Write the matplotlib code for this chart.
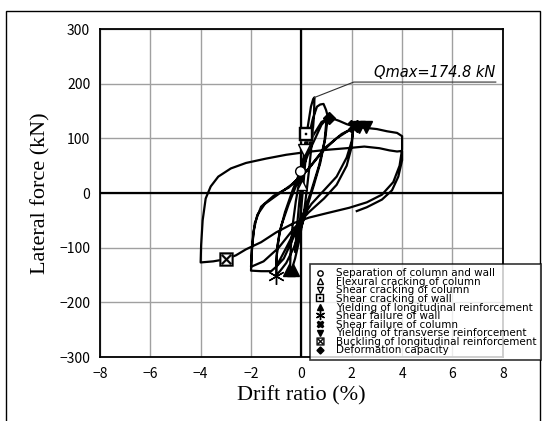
import matplotlib.pyplot as plt
from matplotlib.patches import Rectangle

# hysteresis loop (drift %, lateral force kN)
drift = [0, 0.03, 0.08, 0.15, 0.22, 0.25, 0.18, 0.08, 0.0, -0.1, -0.2, -0.25, -0.18, -0.08, 0.0,
         0.1, 0.25, 0.38, 0.47, 0.52, 0.5, 0.42, 0.3, 0.2, 0.08, -0.1, -0.25, -0.35, -0.45,
         -0.42, -0.35, -0.22, -0.05, 0.2, 0.45, 0.62, 0.75, 0.88, 0.98, 1.05, 0.95, 0.75, 0.5,
         0.3, 0.05, -0.3, -0.6, -0.85, -1.0, -0.98, -0.88, -0.65, -0.35, 0.0, 0.4, 0.8, 1.0,
         0.92, 0.7, 0.4, 0.1, -0.3, -0.7, -1.0, -0.95, -0.8, -0.5, -0.15, 0.3, 0.8, 1.08, 1.5,
         1.8, 2.08, 2.0, 1.8, 1.4, 0.9, 0.4, -0.1, -0.6, -1.0, -1.2, -1.6, -2.0, -1.97, -1.9,
         -1.75, -1.45, -1.0, -0.4, 0.2, 0.8, 1.4, 1.8, 2.05, 2.0, 1.8, 1.4, 0.9, 0.3, -0.3,
         -0.9, -1.5, -2.0, -1.95, -1.85, -1.6, -1.1, -0.5, 0.3, 1.0, 1.6, 2.1, 2.35, 2.6, 3.0,
         3.4, 3.8, 4.0, 4.0, 3.9, 3.65, 3.2, 2.6, 1.9, 1.0, 0.3, -0.3, -1.0, -1.6, -2.2, -2.6,
         -3.0, -3.5, -4.0, -3.98, -3.92, -3.8, -3.6, -3.3, -2.8, -2.2, -1.4, -0.6, 0.2, 1.0,
         1.8, 2.5, 3.1, 3.5, 3.8, 4.0, 4.0, 3.85, 3.6, 3.2, 2.6, 2.2]
force = [0, 15, 50, 85, 105, 112, 70, 15, -25, -70, -100, -108, -65, -15, 20,
         70, 120, 158, 172, 175, 140, 95, 40, 0, -45, -90, -120, -135, -140,
         -100, -60, -15, 30, 85, 135, 158, 162, 163, 152, 140, 100, 55, 15,
         -15, -55, -100, -128, -143, -150, -115, -75, -35, 5, 45, 100, 130, 135,
         95, 50, 5, -35, -80, -120, -135, -95, -60, -20, 20, 75, 125, 139, 132,
         126, 122, 95, 65, 30, 5, -20, -55, -100, -135, -143, -143, -142, -105, -70,
         -40, -20, -5, 15, 40, 75, 100, 112, 118, 85, 50, 15, -10, -35, -65,
         -100, -125, -135, -95, -55, -25, -5, 10, 45, 85, 108, 120, 120, 119, 117,
         113, 110, 104, 80, 50, 20, -3, -17, -27, -37, -45, -55, -72, -90, -103, -114,
         -121, -125, -127, -95, -50, -10, 12, 30, 45, 55, 63, 70, 75, 79,
         82, 85, 82, 78, 76, 77, 60, 30, 5, -12, -26, -33]

# damage events
events = ['Separation of column and wall', 'Flexural cracking of column',
          'Shear cracking of column', 'Shear cracking of wall',
          'Yielding of longitudinal reinforcement', 'Shear failure of wall',
          'Shear failure of column', 'Yielding of transverse reinforcement',
          'Buckling of longitudinal reinforcement', 'Deformation capacity']
event_x = [[-0.05], [0.03], [0.1], [0.2], [-0.5, -0.35], [-1.0], [2.08], [2.3, 2.55], [-3.0], [1.08]]
event_y = [[40], [15], [78], [108], [-140, -140], [-152], [122], [120, 120], [-121], [138]]

qmax = 174.8

fig = plt.figure(figsize=(5.43, 4.21), dpi=100)
ax = fig.add_axes([0.184, 0.152, 0.742, 0.779])

ax.grid(True, color='#a0a0a0', lw=1)
ax.set_axisbelow(True)
ax.axhline(0, color='black', lw=1.6, zorder=1)
ax.axvline(0, color='black', lw=1.6, zorder=1)

ax.plot(drift, force, color='black', lw=1.6, zorder=2)

styles = [
    dict(marker='o', mfc='white', mec='black', ms=7),
    dict(marker='^', mfc='white', mec='black', ms=7),
    dict(marker='v', mfc='white', mec='black', ms=8),
    dict(marker=r'$\boxdot$', color='black', ms=10, mew=0.3),
    dict(marker='^', color='black', ms=8),
    dict(marker=(6, 2, 0), color='black', ms=12, mew=1.0),
    dict(marker='X', color='black', ms=9),
    dict(marker='v', color='black', ms=8),
    dict(marker=r'$\boxtimes$', color='black', ms=10, mew=0.3),
    dict(marker='D', color='black', ms=6.5),
]

# white backing under the box markers
for i in (3, 8):
    ax.plot(event_x[i], event_y[i], ls='none', marker='s', mfc='white', mec='white', ms=9, zorder=3)

handles = []
for name, xs, ys, st in zip(events, event_x, event_y, styles):
    h, = ax.plot(xs, ys, ls='none', zorder=4, label=name, **st)
    handles.append(h)

# Qmax note
ax.plot([0.52, 2.08, 7.72], [qmax, 203, 203], color='#303030', lw=0.8, zorder=3)
ax.text(2.9, 212, 'Qmax=174.8 kN', fontsize=10.5, style='italic', family='DejaVu Sans')

ax.set_xlim(-8, 8)
ax.set_ylim(-300, 300)
ax.set_xticks(range(-8, 9, 2))
ax.set_yticks(range(-300, 301, 100))
ax.tick_params(length=0, labelsize=10, pad=7)
for lab in ax.get_xticklabels() + ax.get_yticklabels():
    lab.set_family('Noto Sans CJK JP')
for s in ax.spines.values():
    s.set_linewidth(1.3)

ax.set_xlabel('Drift ratio (%)', family='Liberation Serif', fontsize=16, labelpad=4)
ax.set_ylabel('Lateral force (kN)', family='Liberation Serif', fontsize=16, labelpad=6)

leg = fig.legend(handles=handles, loc='upper left', bbox_to_anchor=(0.562, 0.386),
                 fontsize=7.5, handlelength=1.0, handletextpad=1.0, labelspacing=-0.14,
                 borderpad=0.45, frameon=True, fancybox=False, markerscale=0.55)
leg.get_frame().set_edgecolor('black')
leg.get_frame().set_linewidth(1.2)
leg.set_zorder(10)

fig.patches.append(Rectangle((6 / 543, -0.05), 534 / 543, 1.05 - 11 / 421, transform=fig.transFigure,
                             fill=False, edgecolor='black', lw=1, zorder=0))

fig.savefig('out.png', dpi=100)
